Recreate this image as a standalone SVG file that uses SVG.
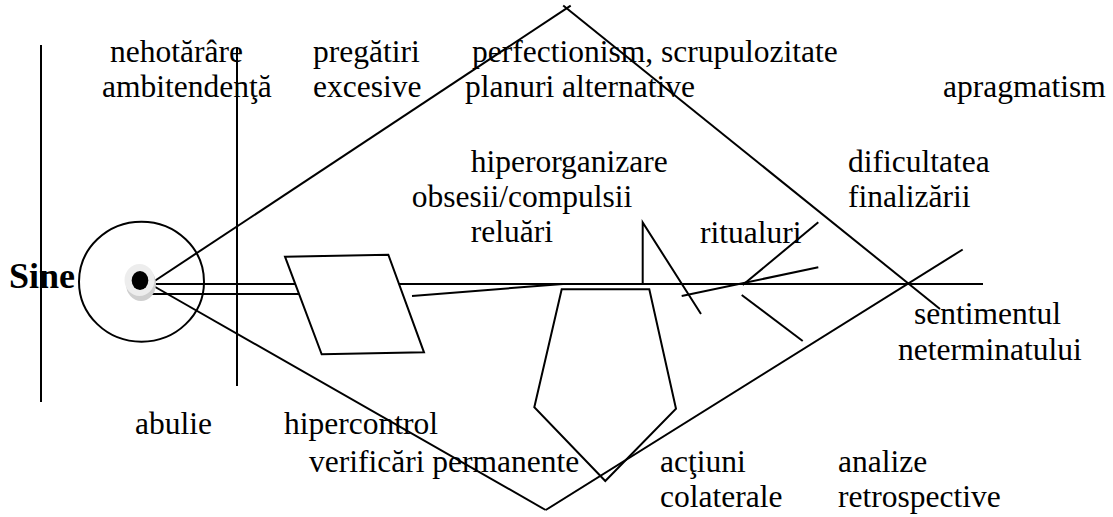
<svg xmlns="http://www.w3.org/2000/svg" width="1113" height="517" viewBox="0 0 1113 517">
<style>
.ln{stroke:#000;stroke-width:2;fill:none;stroke-linecap:butt}
.shape{stroke:#000;stroke-width:2}
text{font-family:"Liberation Serif","Times New Roman",serif;font-size:31.5px;fill:#000}
.bold{font-weight:bold;font-size:36px}
</style>
<rect width="1113" height="517" fill="#fff"/>
<g id="connectors">
<line class="ln" x1="41" y1="45" x2="41" y2="402"/>
<line class="ln" x1="237" y1="47" x2="237" y2="386"/>
<line class="ln" x1="150" y1="284" x2="983" y2="284"/>
<line class="ln" x1="150" y1="294" x2="305" y2="294"/>
<line class="ln" x1="412" y1="296" x2="563" y2="284"/>
<line class="ln" x1="150" y1="284" x2="570.7" y2="5.6"/>
<line class="ln" x1="563.2" y1="5.5" x2="940" y2="309"/>
<line class="ln" x1="150" y1="284" x2="545.7" y2="510"/>
<line class="ln" x1="545.7" y1="510" x2="962.7" y2="249.5"/>
<polyline class="ln" points="642.7,284 642.7,222.5 701,314"/>
<line class="ln" x1="681.7" y1="296" x2="818.3" y2="267.3"/>
<line class="ln" x1="742.7" y1="285" x2="818.3" y2="222.3"/>
<line class="ln" x1="741.7" y1="295" x2="802.7" y2="341"/>
</g>
<g id="sine-circle">
<ellipse cx="141.5" cy="281.7" rx="62.5" ry="60" class="shape" fill="none"/>
</g>
<g id="sine-dot">
<ellipse cx="141" cy="284" rx="15" ry="17" fill="#cfcfcf"/>
<ellipse cx="139.5" cy="280" rx="15" ry="16" fill="#ededed"/>
<ellipse cx="140" cy="280.5" rx="8.3" ry="9.5" fill="#000"/>
</g>
<g id="parallelogram">
<polygon class="shape" fill="#fff" points="285,256.7 388.3,254.7 424,352.3 321.7,354.3"/>
</g>
<g id="pentagon">
<polygon class="shape" fill="none" points="561.7,289.3 649.3,289.3 676,408.7 605.3,481 534.3,407.3"/>
</g>
<g id="label-sine"><text class="bold" x="9" y="288">Sine</text></g>
<g id="label-nehotarare">
<text x="110" y="62">nehotărâre</text>
<text x="102" y="97">ambitendenţă</text>
</g>
<g id="label-pregatiri">
<text x="313" y="62">pregătiri</text>
<text x="313" y="97">excesive</text>
</g>
<g id="label-perfectionism">
<text x="472" y="62">perfectionism, scrupulozitate</text>
<text x="465" y="97">planuri alternative</text>
</g>
<g id="label-apragmatism"><text x="943" y="97">apragmatism</text></g>
<g id="label-hiperorganizare">
<text x="470.7" y="172">hiperorganizare</text>
<text x="411.7" y="207">obsesii/compulsii</text>
<text x="470.7" y="242">reluări</text>
</g>
<g id="label-dificultatea">
<text x="848" y="172">dificultatea</text>
<text x="848" y="207">finalizării</text>
</g>
<g id="label-ritualuri"><text x="700" y="243">ritualuri</text></g>
<g id="label-sentimentul">
<text x="914" y="324">sentimentul</text>
<text x="898" y="360">neterminatului</text>
</g>
<g id="label-abulie"><text x="135" y="434">abulie</text></g>
<g id="label-hipercontrol">
<text x="284" y="434">hipercontrol</text>
<text x="309" y="472">verificări permanente</text>
</g>
<g id="label-actiuni">
<text x="660" y="472">acţiuni</text>
<text x="660" y="507">colaterale</text>
</g>
<g id="label-analize">
<text x="838" y="472">analize</text>
<text x="838" y="507">retrospective</text>
</g>
</svg>
